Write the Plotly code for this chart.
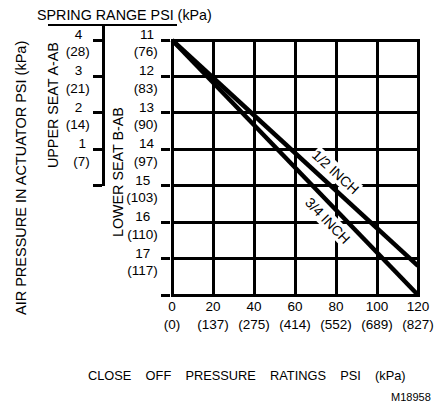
import plotly.graph_objects as go

# ---------------- data ----------------
half_inch_x = [0, 120]
half_inch_y = [11, 17.2]
three_quarter_x = [0, 120]
three_quarter_y = [11, 18]

x_psi = [0, 20, 40, 60, 80, 100, 120]
x_kpa = [0, 137, 275, 414, 552, 689, 827]

lower_psi = [11, 12, 13, 14, 15, 16, 17]
lower_kpa = [76, 83, 90, 97, 103, 110, 117]

upper_psi = [4, 3, 2, 1]
upper_kpa = [28, 21, 14, 7]

# ---------------- helpers ----------------
W, H = 435, 404
FONT = "Liberation Sans, Arial, sans-serif"
NB = "\u00a0"


def em(s):
    w = 0
    for c in s:
        w += 0.333 if c in "()" else 0.556
    return w


def stack(top, bottom, pad=True):
    a, b = str(top), f"({bottom})"
    if pad:
        n = int(round((em(b) - em(a)) / 2 / 0.278))
        a = a + NB * max(n, 0)
    return f"{a}<br>{b}"


def xf(px):
    return px / W


def yf(py):
    return 1 - py / H


# pixel geometry of the grid
X0, X1 = 172, 418      # x = 0 .. 120
Y0, Y1 = 40, 295       # y = 11 .. 18
sx = (X1 - X0) / 120.0
sy = (Y1 - Y0) / 7.0
P = 1.5

fig = go.Figure()

fig.add_trace(go.Scatter(x=half_inch_x, y=half_inch_y, mode="lines",
                         line=dict(color="black", width=4.5), showlegend=False,
                         hoverinfo="skip"))
fig.add_trace(go.Scatter(x=three_quarter_x, y=three_quarter_y, mode="lines",
                         line=dict(color="black", width=4.5), showlegend=False,
                         hoverinfo="skip"))
# carrier trace for the spring-range axis
fig.add_trace(go.Scatter(x=[None], y=[None], xaxis="x2", yaxis="y2",
                         showlegend=False, hoverinfo="skip"))

y_ticks = lower_psi + [18]
y_text = [stack(p, k) for p, k in zip(lower_psi, lower_kpa)] + [""]

u_ticks = upper_psi + [0]
u_text = [stack(p, k) for p, k in zip(upper_psi, upper_kpa)] + [""]

tickfont = dict(family=FONT, size=13.5, color="black")

fig.update_layout(
    width=W, height=H,
    margin=dict(l=0, r=0, t=0, b=0),
    paper_bgcolor="white", plot_bgcolor="white",
    showlegend=False,
    xaxis=dict(
        domain=[xf(X0 - P), xf(X1 + P)],
        range=[-P / sx, 120 + P / sx],
        tickmode="array", tickvals=x_psi,
        ticktext=[stack(p, k, pad=False) for p, k in zip(x_psi, x_kpa)],
        tickfont=tickfont, ticks="",
        showgrid=True, gridcolor="black", gridwidth=3,
        zeroline=False, showline=False, automargin=False, anchor="y",
    ),
    yaxis=dict(
        domain=[yf(Y1 + P), yf(Y0 - P)],
        range=[18 + P / sy, 11 - P / sy],
        tickmode="array", tickvals=y_ticks, ticktext=y_text,
        tickfont=tickfont, ticks="outside", ticklen=9, tickwidth=3,
        tickcolor="black", ticklabelshift=-3,
        showgrid=True, gridcolor="black", gridwidth=3,
        zeroline=False, showline=False, automargin=False, anchor="x",
    ),
    xaxis2=dict(domain=[0, 0.02], visible=False, anchor="y2"),
    yaxis2=dict(
        domain=[yf(Y0 + 4 * sy), yf(25)],
        range=[0, (Y0 + 4 * sy - 25) / sy],
        anchor="free", position=xf(102.5), side="left",
        tickmode="array", tickvals=u_ticks, ticktext=u_text,
        tickfont=tickfont, ticks="outside", ticklen=9, tickwidth=3,
        tickcolor="black", ticklabelshift=3,
        showline=True, linecolor="black", linewidth=3,
        showgrid=False, zeroline=False, automargin=False,
    ),
)

# title underline of the spring range scale
fig.add_shape(type="line", xref="paper", yref="paper",
              x0=xf(48), x1=xf(177), y0=yf(25), y1=yf(25),
              line=dict(color="black", width=2))

title_font = dict(family=FONT, size=14.3, color="black")

anns = [
    dict(text="SPRING RANGE PSI (kPa)", x=xf(124), y=yf(15), textangle=0, font=title_font),
    dict(text="UPPER SEAT A-AB", x=xf(53), y=yf(105), textangle=-90, font=title_font),
    dict(text="LOWER SEAT B-AB", x=xf(118), y=yf(172), textangle=-90, font=title_font),
    dict(text="AIR PRESSURE IN ACTUATOR PSI (kPa)", x=xf(21), y=yf(178), textangle=-90,
         font=dict(family=FONT, size=14.5, color="black")),
    dict(text=(NB * 3 + " ").join(["CLOSE", "OFF", "PRESSURE", "RATINGS", "PSI", "(kPa)"]),
         x=xf(247), y=yf(375), textangle=0,
         font=dict(family=FONT, size=12.8, color="black")),
    dict(text="M18958", x=xf(411), y=yf(397), textangle=0,
         font=dict(family=FONT, size=11, color="black")),
]
for a in anns:
    fig.add_annotation(xref="paper", yref="paper", showarrow=False,
                       xanchor="center", yanchor="middle", **a)

# line labels
fig.add_annotation(x=(335.7 - X0) / sx, y=11 + (171.7 - Y0) / sy, xref="x", yref="y",
                   text="1/2 INCH", showarrow=False, textangle=42.6,
                   bgcolor="white", borderpad=0,
                   font=dict(family=FONT, size=14, color="black"))
fig.add_annotation(x=(328.3 - X0) / sx, y=11 + (220.7 - Y0) / sy, xref="x", yref="y",
                   text="3/4 INCH", showarrow=False, textangle=46,
                   bgcolor="white", borderpad=0,
                   font=dict(family=FONT, size=14, color="black"))

fig.write_html("out.html",
               config={"displayModeBar": False, "staticPlot": True},
               post_script="document.body.style.margin='0';"
                           "document.body.style.overflow='hidden';")
